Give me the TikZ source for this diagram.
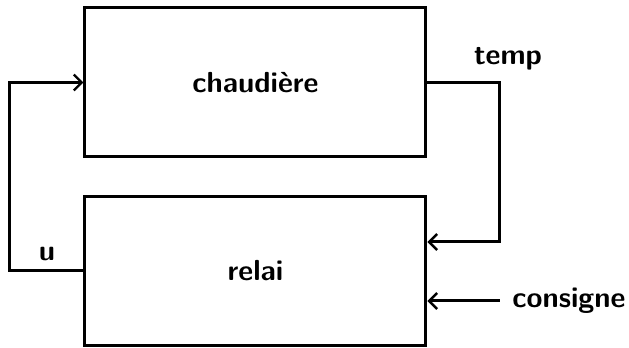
\documentclass[tikz,border=0pt]{standalone}
\usepackage{fontspec}
\usetikzlibrary{arrows.meta}
\begin{document}
\begin{tikzpicture}[x=0.5pt,y=-0.5pt,
  every node/.style={font=\fontsize{14.5}{17}\selectfont\sffamily\bfseries},
  block/.style={draw, line width=1.5pt, minimum width=170.5pt, minimum height=74.5pt, inner sep=0pt},
  wire/.style={line width=1.5pt, -{Straight Barb[length=4pt,width=8pt,line width=1.2pt]}},
  plain/.style={line width=1.5pt}]
\useasboundingbox (0,0) rectangle (629,348);
% the two blocks
\node[block] (ch) at (255.5,82.5) {chaudière};
\node[block] (re) at (255.5,271) {relai};
% feedback path: temperature to the relay
\coordinate (tr) at (500,82.5);
\coordinate (tb) at (500,242);
\draw[wire] (ch.east) -- (tr) -- (tb) -- ([yshift=14.5pt]re.east);
\node (temp) at (508,59) {temp};
% set point
\coordinate (cs) at (500,301);
\draw[wire] (cs) -- ([yshift=-15pt]re.east);
\node[anchor=west, inner sep=0pt] (cons) at (512,301) {consigne};
% command path: relay output back to the boiler
\coordinate (ub) at (10,271);
\coordinate (ut) at (10,82.5);
\draw[wire] (re.west) -- (ub) -- (ut) -- (ch.west);
\node (u) at (47,254) {u};
\end{tikzpicture}
\end{document}
